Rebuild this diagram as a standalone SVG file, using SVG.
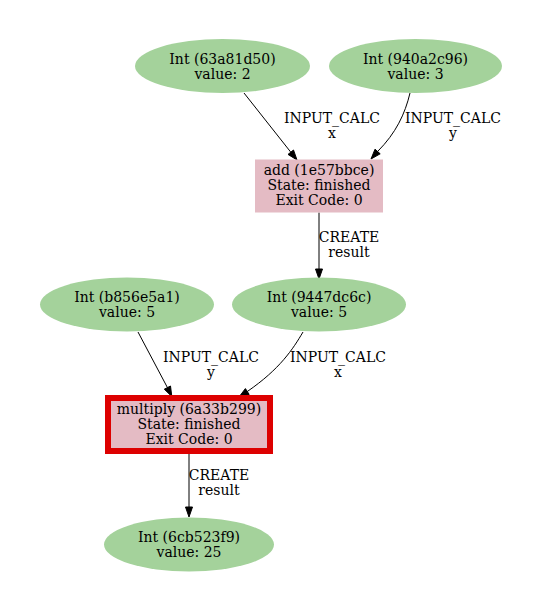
<svg xmlns="http://www.w3.org/2000/svg" width="544" height="611" viewBox="0 0 544 611">
<style>
text{font-family:"DejaVu Serif",serif;font-size:14px;fill:#000;text-anchor:middle}
.data ellipse{fill:#a4d29b;stroke:none}
.calc rect{fill:#e4bbc4;stroke:none}
.hl rect{fill:#e4bbc4;stroke:#dd0000;stroke-width:6}
.edge path{fill:none;stroke:#000;stroke-width:1}
.edge polygon{fill:#000;stroke:#000;stroke-width:1}
</style>
<rect width="544" height="611" fill="#fff"/>
<g id="connectors">
<g class="edge" id="e1"><path d="M244,93 L290.8,152.2"/><polygon points="293.5,150 297,160 288,154.4"/>
<text x="332" y="122.5">INPUT_CALC</text><text x="332" y="137.5">x</text></g>
<g class="edge" id="e2"><path d="M410,93 C405,114 396,133 377.6,151.5"/><polygon points="380.2,153.8 371,159 375,149.2"/>
<text x="453" y="122.5">INPUT_CALC</text><text x="453" y="137.5">y</text></g>
<g class="edge" id="e3"><path d="M319,212.5 L319,269"/><polygon points="315.5,269 319,279 322.5,269"/>
<text x="349" y="242">CREATE</text><text x="349" y="257">result</text></g>
<g class="edge" id="e4"><path d="M138,332 L167.4,387.5"/><polygon points="170.5,386 171.8,396.5 164.3,389.2"/>
<text x="211" y="362">INPUT_CALC</text><text x="211" y="377">y</text></g>
<g class="edge" id="e5"><path d="M303,332 C293,349 280,369 247.3,391.5"/><polygon points="249.2,394.4 239,397 245.4,388.6"/>
<text x="338" y="362">INPUT_CALC</text><text x="338" y="377">x</text></g>
<g class="edge" id="e6"><path d="M189,454 L189,507"/><polygon points="185.5,507 189,517 192.5,507"/>
<text x="219" y="480">CREATE</text><text x="219" y="495">result</text></g>
</g>
<g id="n63a81d50" class="data"><ellipse cx="222.5" cy="66" rx="87.5" ry="27"/><text x="222.5" y="63.5">Int (63a81d50)</text><text x="222.5" y="78.5">value: 2</text></g>
<g id="n940a2c96" class="data"><ellipse cx="415.5" cy="66" rx="86.5" ry="27"/><text x="415.5" y="63.5">Int (940a2c96)</text><text x="415.5" y="78.5">value: 3</text></g>
<g id="n1e57bbce" class="calc"><rect x="255" y="159.5" width="128" height="53"/><text x="319" y="174.5">add (1e57bbce)</text><text x="319" y="189.5">State: finished</text><text x="319" y="204.5">Exit Code: 0</text></g>
<g id="nb856e5a1" class="data"><ellipse cx="127" cy="304.5" rx="87" ry="27"/><text x="127" y="301.5">Int (b856e5a1)</text><text x="127" y="316.5">value: 5</text></g>
<g id="n9447dc6c" class="data"><ellipse cx="319" cy="304.5" rx="87" ry="27"/><text x="319" y="301.5">Int (9447dc6c)</text><text x="319" y="316.5">value: 5</text></g>
<g id="n6a33b299" class="hl"><rect x="108" y="398" width="162" height="53"/><text x="189" y="413.5">multiply (6a33b299)</text><text x="189" y="428.5">State: finished</text><text x="189" y="443.5">Exit Code: 0</text></g>
<g id="n6cb523f9" class="data"><ellipse cx="189" cy="544.5" rx="85" ry="27"/><text x="189" y="541.5">Int (6cb523f9)</text><text x="189" y="556.5">value: 25</text></g>
</svg>
